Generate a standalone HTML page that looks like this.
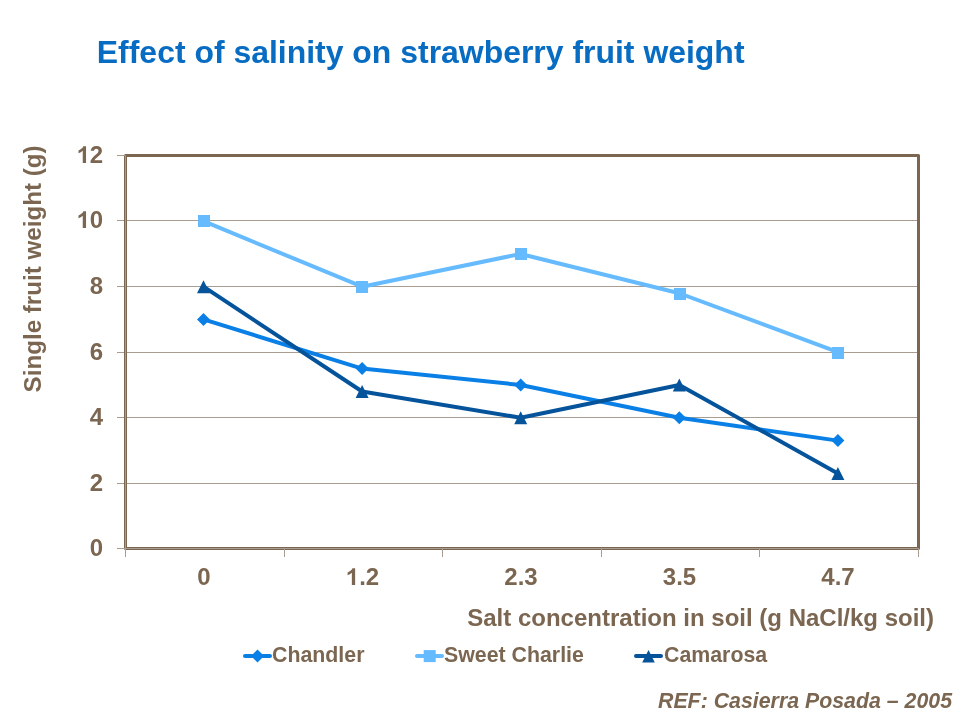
<!DOCTYPE html>
<html>
<head>
<meta charset="utf-8">
<title>Effect of salinity on strawberry fruit weight</title>
<style>
html,body{margin:0;padding:0;background:#fff;}
body{width:960px;height:720px;overflow:hidden;font-family:"Liberation Sans",sans-serif;}
svg{display:block;}
text{font-family:"Liberation Sans",sans-serif;font-weight:bold;}
.ax{fill:#7b6651;font-size:24px;}
.lg{fill:#7b6651;font-size:21.33px;}
</style>
</head>
<body>
<svg width="960" height="720" viewBox="0 0 960 720" style="will-change:transform">
<rect x="0" y="0" width="960" height="720" fill="#ffffff"/>
<!-- title -->
<text id="title" x="96.8" y="62.6" font-size="31.95" fill="#076cc2">Effect of salinity on strawberry fruit weight</text>

<!-- gridlines -->
<g stroke="#a89d90" stroke-width="1" fill="none">
<line x1="117" y1="220.5" x2="918" y2="220.5"/>
<line x1="117" y1="286.5" x2="918" y2="286.5"/>
<line x1="117" y1="352.5" x2="918" y2="352.5"/>
<line x1="117" y1="417.5" x2="918" y2="417.5"/>
<line x1="117" y1="483.5" x2="918" y2="483.5"/>
</g>
<!-- plot border -->
<rect x="125.5" y="155.5" width="793" height="393" fill="none" stroke="#7b6651" stroke-width="3" stroke-linejoin="round"/>
<!-- axis lines + ticks -->
<g stroke="#a89d90" stroke-width="1" fill="none">
<line x1="125.5" y1="155.5" x2="125.5" y2="557"/>
<line x1="117" y1="548.5" x2="918.5" y2="548.5"/>
<line x1="117" y1="155.5" x2="125" y2="155.5"/>
<line x1="284.5" y1="548" x2="284.5" y2="557"/>
<line x1="442.5" y1="548" x2="442.5" y2="557"/>
<line x1="601.5" y1="548" x2="601.5" y2="557"/>
<line x1="759.5" y1="548" x2="759.5" y2="557"/>
<line x1="918.5" y1="548" x2="918.5" y2="557"/>
</g>

<!-- y labels -->
<g class="ax" text-anchor="end">
<text x="103" y="163">2</text><path fill="#7b6651" transform="translate(76.6,163) scale(0.01172,-0.01145)" d="M806 0H525V1059Q371 915 162 846V1101Q272 1137 401 1237.5Q530 1338 578 1472H806Z"/>
<text x="103" y="228">0</text><path fill="#7b6651" transform="translate(76.6,228) scale(0.01172,-0.01145)" d="M806 0H525V1059Q371 915 162 846V1101Q272 1137 401 1237.5Q530 1338 578 1472H806Z"/>
<text x="103" y="294">8</text>
<text x="103" y="359.5">6</text>
<text x="103" y="425">4</text>
<text x="103" y="490.5">2</text>
<text x="103" y="556">0</text>
</g>
<!-- x labels -->
<g class="ax" text-anchor="middle">
<text x="204" y="585">0</text>
<text x="359.15" y="585" text-anchor="start">.2</text><path fill="#7b6651" transform="translate(345.7,585) scale(0.01172,-0.01145)" d="M806 0H525V1059Q371 915 162 846V1101Q272 1137 401 1237.5Q530 1338 578 1472H806Z"/>
<text x="521" y="585">2.3</text>
<text x="679.5" y="585">3.5</text>
<text x="838" y="585">4.7</text>
</g>
<!-- axis titles -->
<text class="ax" id="ytitle" style="font-size:24.16px" transform="translate(41,392.4) rotate(-90)">Single fruit weight (g)</text>
<text class="ax" id="xtitle" x="934" y="626.2" text-anchor="end">Salt concentration in soil (g NaCl/kg soil)</text>

<!-- series: Sweet Charlie -->
<g id="s2">
<polyline fill="none" stroke="#66bbff" stroke-width="4" stroke-linejoin="round" stroke-linecap="round" points="203.5,221.2 362.1,286.7 520.7,253.95 679.3,293.25 837.9,352.2"/>
<g fill="#66bbff">
<rect x="198" y="215" width="12" height="12"/>
<rect x="356" y="281" width="12" height="12"/>
<rect x="515" y="248" width="12" height="12"/>
<rect x="674" y="288" width="12" height="12"/>
<rect x="832" y="347" width="12" height="12"/>
</g>
</g>
<!-- series: Chandler -->
<g id="s1">
<polyline fill="none" stroke="#0a80e6" stroke-width="4" stroke-linejoin="round" stroke-linecap="round" points="203.5,319.45 362.1,368.57 520.7,384.95 679.3,417.7 837.9,440.62"/>
<g fill="#0a80e6">
<path d="M203.5,312.95 l6.5,6.5 l-6.5,6.5 l-6.5,-6.5z"/>
<path d="M362.1,362.07 l6.5,6.5 l-6.5,6.5 l-6.5,-6.5z"/>
<path d="M520.7,378.45 l6.5,6.5 l-6.5,6.5 l-6.5,-6.5z"/>
<path d="M679.3,411.2 l6.5,6.5 l-6.5,6.5 l-6.5,-6.5z"/>
<path d="M837.9,434.12 l6.5,6.5 l-6.5,6.5 l-6.5,-6.5z"/>
</g>
</g>
<!-- series: Camarosa -->
<g id="s3">
<polyline fill="none" stroke="#05549b" stroke-width="4" stroke-linejoin="round" stroke-linecap="round" points="203.5,286.7 362.1,391.5 520.7,417.7 679.3,384.95 837.9,473.38"/>
<g fill="#05549b">
<path d="M203.5,280.2 l6.5,13 h-13z"/>
<path d="M362.1,385.0 l6.5,13 h-13z"/>
<path d="M520.7,411.2 l6.5,13 h-13z"/>
<path d="M679.3,378.45 l6.5,13 h-13z"/>
<path d="M837.9,466.88 l6.5,13 h-13z"/>
</g>
</g>

<!-- legend -->
<g>
<line x1="245" y1="656.1" x2="270" y2="656.1" stroke="#0a80e6" stroke-width="4" stroke-linecap="round"/>
<path d="M257.5,649.6 l6.5,6.5 l-6.5,6.5 l-6.5,-6.5z" fill="#0a80e6"/>
<text class="lg" x="272" y="662.4">Chandler</text>
<line x1="417" y1="656.1" x2="442" y2="656.1" stroke="#66bbff" stroke-width="4" stroke-linecap="round"/>
<rect x="423.7" y="650.1" width="12" height="12" fill="#66bbff"/>
<text class="lg" x="444" y="662.4">Sweet Charlie</text>
<line x1="636" y1="656.1" x2="661" y2="656.1" stroke="#05549b" stroke-width="4" stroke-linecap="round"/>
<path d="M648.5,649.9 l6.3,12.6 h-12.6z" fill="#05549b"/>
<text class="lg" x="664" y="662.4">Camarosa</text>
</g>
<!-- ref -->
<text id="ref" x="952" y="708" text-anchor="end" font-size="21.33" font-style="italic" fill="#7b6651">REF: Casierra Posada – 2005</text>
</svg>
</body>
</html>
